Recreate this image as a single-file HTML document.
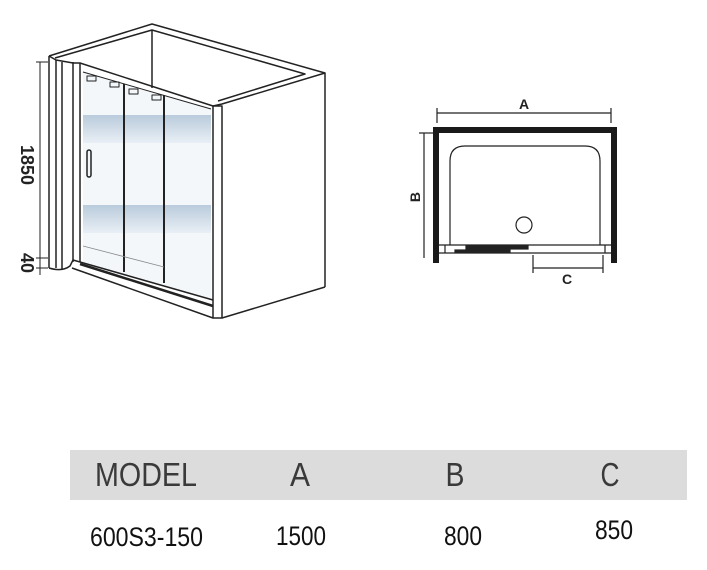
<!DOCTYPE html>
<html><head><meta charset="utf-8"><style>html,body{margin:0;padding:0;background:#fff;width:707px;height:570px;overflow:hidden}</style></head>
<body>
<svg width="707" height="570" viewBox="0 0 707 570" xmlns="http://www.w3.org/2000/svg" font-family="Liberation Sans, sans-serif">
<defs>
<linearGradient id="g" x1="0" y1="0" x2="0" y2="1">
<stop offset="0" stop-color="#b9cbdc"/><stop offset="1" stop-color="#e9eff5"/>
</linearGradient>
</defs>
<g fill="none" stroke="#222" stroke-width="1.5" stroke-linejoin="round">
<polygon points="83,72 211,108 211,300 83,262" fill="#f4f7fa" stroke="none"/>
<polygon points="83,115 211,115 211,143 83,143" fill="url(#g)" stroke="none"/>
<polygon points="83,205 211,205 211,233 83,233" fill="url(#g)" stroke="none"/>
<polyline points="49,56 152,24 325,73 325,287"/>
<polyline points="55,58 152,30 305,74 218,101"/>
<line x1="152" y1="30" x2="152" y2="88"/>
<polyline points="49,56 49,268"/>
<line x1="56" y1="60" x2="56" y2="268"/>
<line x1="62" y1="62" x2="62" y2="270"/>
<line x1="73" y1="62" x2="73" y2="262"/>
<polyline points="49,56 56,60 73,63 80,63 213,106 222,104 325,73"/>
<line x1="80" y1="63" x2="80" y2="262"/>
<rect x="213" y="106" width="9" height="212"/>
<line x1="222" y1="318" x2="325" y2="287"/>
<polyline points="73,260 213,300"/>
<polyline points="72,268 213,318"/>
<polyline points="80,264 213,306" stroke-width="2.5"/>
<path d="M49,268 Q62,272 70,266 L73,260"/>
<line x1="124" y1="84" x2="124" y2="272" stroke-width="2"/>
<line x1="164" y1="95" x2="164" y2="283" stroke-width="2"/>
<line x1="83" y1="72" x2="211" y2="109" stroke-width="1"/>
<line x1="83" y1="246" x2="164" y2="267" stroke-width="0.8" stroke="#888"/>
<rect x="87" y="76" width="9" height="5" stroke-width="1"/>
<rect x="110" y="82" width="9" height="5" stroke-width="1"/>
<rect x="129" y="89" width="9" height="5" stroke-width="1"/>
<rect x="152" y="95" width="9" height="5" stroke-width="1"/>
<rect x="87" y="150" width="4" height="27" rx="2" stroke-width="1.5"/>
<line x1="40" y1="62" x2="40" y2="275" stroke-width="1"/>
<line x1="36" y1="62" x2="48" y2="62" stroke-width="1"/>
<line x1="36" y1="258" x2="48" y2="258" stroke-width="1"/>
<line x1="36" y1="268" x2="48" y2="268" stroke-width="1"/>
</g>
<text transform="translate(21,165) rotate(90)" font-size="18" font-weight="bold" text-anchor="middle" fill="#222">1850</text>
<text transform="translate(21,263) rotate(90)" font-size="18" font-weight="bold" text-anchor="middle" fill="#222">40</text>

<g fill="none" stroke="#222" stroke-width="1.2">
<rect x="433" y="127" width="184" height="6" fill="#1a1a1a" stroke="none"/>
<rect x="433" y="127" width="6" height="136" fill="#1a1a1a" stroke="none"/>
<rect x="611" y="127" width="6" height="136" fill="#1a1a1a" stroke="none"/>
<path d="M450,245 L450,161 Q450,146 465,146 L585,146 Q600,146 600,161 L600,245"/>
<circle cx="524" cy="225" r="8"/>
<line x1="439" y1="245" x2="611" y2="245"/>
<line x1="439" y1="253" x2="611" y2="253"/>
<line x1="445" y1="245" x2="445" y2="253"/>
<line x1="605" y1="245" x2="605" y2="253"/>
<rect x="466" y="246" width="62" height="3" fill="#222"/>
<rect x="455" y="250" width="55" height="2" fill="#222"/>
<line x1="437" y1="113" x2="611" y2="113"/>
<line x1="437" y1="108" x2="437" y2="123"/>
<line x1="611" y1="108" x2="611" y2="123"/>
<line x1="424" y1="133" x2="424" y2="258"/>
<line x1="419" y1="133" x2="433" y2="133"/>
<line x1="533" y1="255" x2="533" y2="273"/>
<line x1="603" y1="255" x2="603" y2="273"/>
<line x1="533" y1="268" x2="603" y2="268"/>
</g>
<text x="524" y="109" font-size="14" font-weight="bold" text-anchor="middle" fill="#222">A</text>
<text transform="translate(420,197) rotate(-90)" font-size="14" font-weight="bold" text-anchor="middle" fill="#222">B</text>
<text x="567" y="284" font-size="14" font-weight="bold" text-anchor="middle" fill="#222">C</text>

<rect x="70" y="450" width="617" height="50" fill="#dcdcdc"/>
<g fill="#3a3a3a" font-size="33">
<text x="95" y="486" textLength="102" lengthAdjust="spacingAndGlyphs">MODEL</text>
<text x="300" y="486" text-anchor="middle" textLength="20" lengthAdjust="spacingAndGlyphs">A</text>
<text x="455" y="486" text-anchor="middle" textLength="19" lengthAdjust="spacingAndGlyphs">B</text>
<text x="610" y="486" text-anchor="middle" textLength="19" lengthAdjust="spacingAndGlyphs">C</text>
</g>
<g fill="#111" font-size="27">
<text x="90" y="546" textLength="113" lengthAdjust="spacingAndGlyphs">600S3-150</text>
<text x="276" y="545" textLength="50" lengthAdjust="spacingAndGlyphs">1500</text>
<text x="444" y="545" textLength="38" lengthAdjust="spacingAndGlyphs">800</text>
<text x="595" y="539" textLength="38" lengthAdjust="spacingAndGlyphs">850</text>
</g>
</svg>
</body></html>
